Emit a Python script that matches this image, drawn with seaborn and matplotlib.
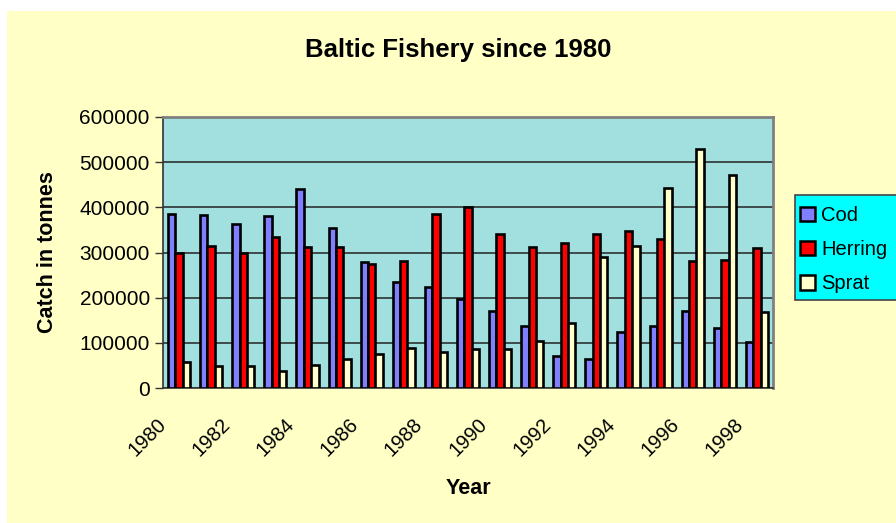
import matplotlib
matplotlib.use("Agg")
import matplotlib.pyplot as plt
import matplotlib.transforms as mtransforms
from matplotlib.patches import Rectangle, Patch
import seaborn as sns
import pandas as pd

years = list(range(1980, 1999))
cod = [386000, 383000, 362000, 380000, 440000, 354000, 278000, 234000, 223000, 197000,
       170000, 138000, 70000, 65000, 124000, 138000, 170000, 132000, 102000]
herring = [300000, 315000, 300000, 334000, 312000, 312000, 275000, 281000, 385000, 400000,
           342000, 313000, 322000, 340000, 348000, 330000, 282000, 284000, 310000]
sprat = [58000, 49000, 49000, 38000, 52000, 64000, 75000, 88000, 80000, 86000,
         86000, 104000, 143000, 289000, 314000, 442000, 530000, 472000, 169000]
series_names = ["Cod", "Herring", "Sprat"]
colors = ["#8080FF", "#FF0000", "#FFFFCC"]
yticks = [0, 100000, 200000, 300000, 400000, 500000, 600000]

df = pd.DataFrame({
    "Year": [str(y) for y in years] * 3,
    "Catch": cod + herring + sprat,
    "Species": sum([[n] * len(years) for n in series_names], []),
})

sns.set_theme(style="white")
plt.rcParams["font.family"] = ["Liberation Sans", "DejaVu Sans"]
plt.rcParams["text.color"] = "black"
plt.rcParams["xtick.color"] = "black"
plt.rcParams["ytick.color"] = "black"
plt.rcParams["axes.labelcolor"] = "black"

W, H = 896, 523
fig = plt.figure(figsize=(W / 100, H / 100), dpi=100, facecolor="white")
fig.patches.append(Rectangle((7 / W, 0), 1 - 7 / W, 1 - 11 / H, transform=fig.transFigure,
                             facecolor="#FFFFC6", edgecolor="none", zorder=-10))

ax = fig.add_axes([163 / W, 1 - 388 / H, (773 - 163) / W, (388 - 117) / H])
ax.set_facecolor("#A2E0E0")

sns.barplot(data=df, x="Year", y="Catch", hue="Species", hue_order=series_names,
            palette=colors, width=0.69, edgecolor="black", linewidth=1.9,
            saturation=1, ax=ax, legend=False, zorder=3)

ax.set_ylim(0, 600000)
ax.set_xlim(-0.5, len(years) - 0.5)
ax.set_yticks(yticks)
ax.set_yticklabels([str(v) for v in yticks], fontsize=15)
ax.yaxis.grid(True, color="#222222", linewidth=1.1, zorder=0)
ax.set_axisbelow(True)

# x ticks at category boundaries, labels every other year
ax.set_xticks([i - 0.5 for i in range(len(years) + 1)], minor=False)
ax.set_xticklabels([])
ax.tick_params(axis="x", which="major", direction="inout", length=10, width=1, color="#333333")
ax.tick_params(axis="y", direction="out", length=6, width=1, color="#333333", left=True)
ax.set_xticks([i for i in range(len(years))], minor=True)
minor_labels = [str(y) if (y % 2 == 0) else "" for y in years]
ax.set_xticklabels(minor_labels, minor=True, rotation=45, ha="right", va="top",
                   rotation_mode="anchor", fontsize=14.5)
ax.tick_params(axis="x", which="minor", length=0, pad=19)
offset = mtransforms.ScaledTranslation(-23 / 100, 0, fig.dpi_scale_trans)
for lbl in ax.get_xticklabels(minor=True):
    lbl.set_transform(lbl.get_transform() + offset)

for s in ["top", "right"]:
    ax.spines[s].set_color("#808080")
    ax.spines[s].set_linewidth(2)
for s in ["left", "bottom"]:
    ax.spines[s].set_color("#333333")
    ax.spines[s].set_linewidth(1.2)

ax.set_xlabel("")
ax.set_ylabel("")
fig.text(48 / W, 1 - 252 / H, "Catch in tonnes", rotation=90, ha="center", va="center",
         fontsize=15.5, fontweight="bold")
fig.text(468 / W, 1 - 489 / H, "Year", ha="center", va="center", fontsize=15.5, fontweight="bold")
fig.text(458 / W, 1 - 50 / H, "Baltic Fishery since 1980", ha="center", va="center",
         fontsize=18.5, fontweight="bold")

# legend box (extends past the right edge like the reference)
fig.patches.append(Rectangle((795 / W, 1 - 300 / H), 120 / W, 105 / H, transform=fig.transFigure,
                             facecolor="#00FFFF", edgecolor="#444444", linewidth=1.2, zorder=5))
handles = [Patch(facecolor=c, edgecolor="black", linewidth=1.8) for c in colors]
leg = fig.legend(handles, series_names, loc="upper left",
                 bbox_to_anchor=(800 / W, 1 - 206 / H), bbox_transform=fig.transFigure,
                 fontsize=14.5, frameon=False, handlelength=0.75,
                 handleheight=0.75, handletextpad=0.3, labelspacing=0.75,
                 borderpad=0, borderaxespad=0)
leg.set_zorder(6)

fig.savefig("out.png", dpi=100, facecolor=fig.get_facecolor())
